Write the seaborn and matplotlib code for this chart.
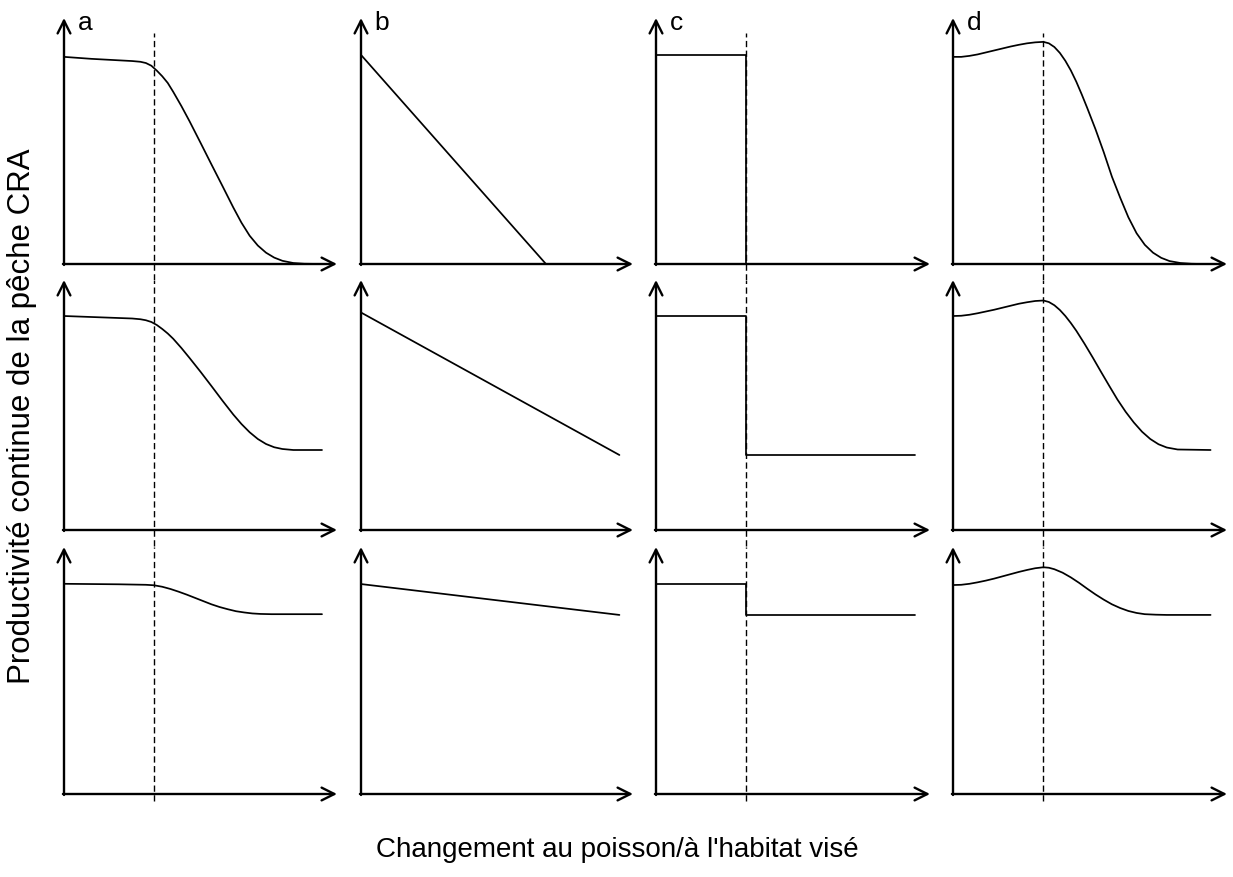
import matplotlib
matplotlib.use('Agg')
import matplotlib.pyplot as plt
import numpy as np
import seaborn as sns

# panel letters (columns) and threshold position of the dashed line
letters = ['a', 'b', 'c', 'd']
threshold = {'a': 0.33, 'c': 0.33, 'd': 0.33}

# column a : sigmoid decline after threshold
a1_x = [0, 0.05, 0.10, 0.15, 0.20, 0.25, 0.28, 0.30, 0.32, 0.34, 0.36, 0.38, 0.40, 0.43, 0.46, 0.50,
        0.54, 0.58, 0.62, 0.65, 0.68, 0.71, 0.74, 0.77, 0.80, 0.84, 0.88, 0.945]
a1_y = [0.842, 0.838, 0.834, 0.831, 0.828, 0.825, 0.822, 0.817, 0.806, 0.786, 0.763, 0.736, 0.700, 0.642,
        0.580, 0.493, 0.405, 0.318, 0.230, 0.168, 0.115, 0.075, 0.046, 0.026, 0.013, 0.004, 0.001, 0.0]
a2_x = [0, 0.05, 0.10, 0.15, 0.20, 0.25, 0.28, 0.30, 0.32, 0.34, 0.36, 0.38, 0.40, 0.43, 0.46, 0.50,
        0.54, 0.58, 0.62, 0.65, 0.68, 0.71, 0.74, 0.77, 0.80, 0.84, 0.945]
a2_y = [0.856, 0.854, 0.852, 0.850, 0.848, 0.846, 0.843, 0.839, 0.832, 0.820, 0.804, 0.786, 0.765, 0.728,
        0.688, 0.633, 0.576, 0.518, 0.462, 0.424, 0.391, 0.364, 0.344, 0.331, 0.324, 0.320, 0.320]
a3_x = [0, 0.10, 0.20, 0.30, 0.33, 0.36, 0.39, 0.42, 0.45, 0.48, 0.51, 0.54, 0.57, 0.60, 0.63, 0.66,
        0.69, 0.72, 0.76, 0.80, 0.945]
a3_y = [0.851, 0.850, 0.849, 0.847, 0.845, 0.839, 0.830, 0.819, 0.807, 0.794, 0.781, 0.768, 0.757, 0.748,
        0.740, 0.735, 0.731, 0.729, 0.728, 0.728, 0.728]

# column b : linear decline
b1_x = [0, 0.68]
b1_y = [0.85, 0.0]
b2_x = [0, 0.95]
b2_y = [0.87, 0.30]
b3_x = [0, 0.95]
b3_y = [0.85, 0.725]

# column c : step at threshold
c1_x = [0, 0.33, 0.33]
c1_y = [0.85, 0.85, 0.0]
c2_x = [0, 0.33, 0.33, 0.945]
c2_y = [0.856, 0.856, 0.30, 0.30]
c3_x = [0, 0.33, 0.33, 0.945]
c3_y = [0.85, 0.85, 0.725, 0.725]

# column d : rise up to threshold then decline
d1_x = [0, 0.03, 0.06, 0.09, 0.12, 0.15, 0.18, 0.21, 0.24, 0.27, 0.30, 0.33, 0.35, 0.37, 0.39, 0.41,
        0.43, 0.45, 0.47, 0.49, 0.52, 0.55, 0.58, 0.61, 0.64, 0.67, 0.70, 0.73, 0.76, 0.79, 0.83, 0.87, 0.91]
d1_y = [0.842, 0.842, 0.846, 0.852, 0.860, 0.868, 0.876, 0.884, 0.891, 0.897, 0.901, 0.903, 0.897, 0.882,
        0.858, 0.826, 0.787, 0.741, 0.689, 0.634, 0.548, 0.455, 0.355, 0.270, 0.190, 0.125, 0.078, 0.046,
        0.025, 0.012, 0.004, 0.001, 0.0]
d2_x = [0, 0.03, 0.06, 0.09, 0.12, 0.15, 0.18, 0.21, 0.24, 0.27, 0.30, 0.33, 0.35, 0.37, 0.39, 0.41,
        0.43, 0.45, 0.48, 0.51, 0.54, 0.57, 0.60, 0.63, 0.66, 0.69, 0.72, 0.75, 0.78, 0.82, 0.94]
d2_y = [0.856, 0.857, 0.861, 0.867, 0.874, 0.881, 0.889, 0.897, 0.905, 0.911, 0.916, 0.918, 0.912, 0.899,
        0.880, 0.856, 0.828, 0.797, 0.745, 0.690, 0.633, 0.577, 0.522, 0.473, 0.430, 0.393, 0.364, 0.343,
        0.330, 0.322, 0.320]
d3_x = [0, 0.03, 0.06, 0.09, 0.12, 0.15, 0.18, 0.21, 0.24, 0.27, 0.30, 0.33, 0.35, 0.37, 0.40, 0.43,
        0.46, 0.49, 0.52, 0.55, 0.58, 0.61, 0.64, 0.67, 0.70, 0.74, 0.78, 0.94]
d3_y = [0.846, 0.847, 0.851, 0.857, 0.864, 0.872, 0.881, 0.890, 0.899, 0.907, 0.914, 0.918, 0.916, 0.910,
        0.896, 0.877, 0.855, 0.831, 0.808, 0.787, 0.768, 0.753, 0.741, 0.733, 0.728, 0.726, 0.725, 0.725]

curves = [
    [(a1_x, a1_y), (b1_x, b1_y), (c1_x, c1_y), (d1_x, d1_y)],
    [(a2_x, a2_y), (b2_x, b2_y), (c2_x, c2_y), (d2_x, d2_y)],
    [(a3_x, a3_y), (b3_x, b3_y), (c3_x, c3_y), (d3_x, d3_y)],
]

sns.set_style('white')
plt.rcParams['font.family'] = ['Liberation Sans', 'DejaVu Sans']
plt.rcParams['text.color'] = 'black'

W, H = 1233, 877
fig = plt.figure(figsize=(12.33, 8.77), dpi=100)

# panel geometry in pixels
col_left = [64, 361, 656, 953]
col_width = [273, 272, 274, 274]
row_top = [18, 280, 547]
row_bottom = [264, 530, 794]

for r in range(3):
    for c in range(4):
        h = row_bottom[r] - row_top[r]
        ax = fig.add_axes([col_left[c] / W, (H - row_bottom[r]) / H, col_width[c] / W, h / H])
        x, y = curves[r][c]
        sns.lineplot(x=x, y=y, ax=ax, color='black', lw=1.25, sort=False, estimator=None)
        ax.set_xlim(0, 1)
        ax.set_ylim(0, 1)
        ax.set_xticks([])
        ax.set_yticks([])
        ax.set_xlabel('')
        ax.set_ylabel('')
        for s in ax.spines.values():
            s.set_visible(False)
        # axes drawn as arrows
        arr = dict(arrowstyle='->', lw=1.7, color='black', mutation_scale=23, shrinkA=0, shrinkB=0)
        ax.annotate('', xy=(1, 0), xytext=(-0.004, 0), xycoords='axes fraction', arrowprops=arr)
        ax.annotate('', xy=(0, 1), xytext=(0, -0.004), xycoords='axes fraction', arrowprops=arr)
        L = letters[c]
        if L in threshold:
            gap = 16 / h
            if r == 0:
                ymin, ymax = -gap, 0.94
            elif r == 1:
                ymin, ymax = -gap, 1.0
            else:
                ymin, ymax = -0.03, 1.0
            ax.axvline(threshold[L], ymin=ymin, ymax=ymax, color='black', lw=1.0,
                       linestyle=(0, (4.5, 2.5)), clip_on=False)
        if r == 0:
            ax.text(0.05, 0.98, L, transform=ax.transAxes, fontsize=19, va='center', ha='left',
                    color='black')

fig.text(22 / W, 1 - 416 / H, 'Productivité continue de la pêche CRA', rotation=90,
         fontsize=22.5, ha='center', va='center', color='black')
fig.text(617 / W, 1 - 850 / H, "Changement au poisson/à l'habitat visé",
         fontsize=20, ha='center', va='center', color='black')

fig.savefig('out.png', dpi=100, facecolor='white')
